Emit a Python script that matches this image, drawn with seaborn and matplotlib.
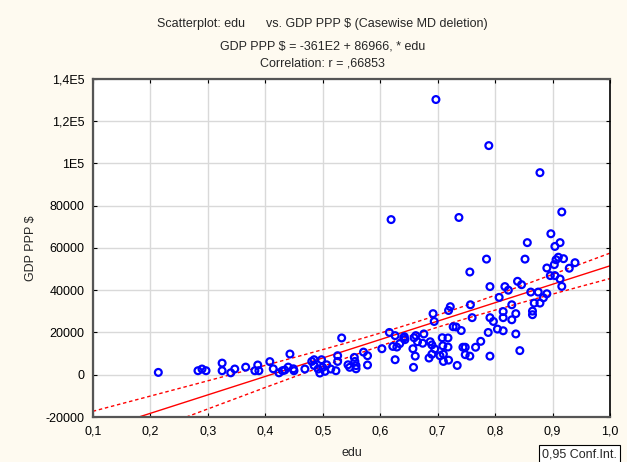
import matplotlib

matplotlib.use("Agg")
import matplotlib.pyplot as plt
import numpy as np
import pandas as pd
import seaborn as sns

edu = [
    0.214, 0.283, 0.290, 0.297, 0.325, 0.325, 0.340, 0.347, 0.366, 0.387,
    0.389, 0.382, 0.408, 0.414, 0.424, 0.430, 0.434, 0.440, 0.443, 0.449,
    0.450, 0.469, 0.481, 0.485, 0.485, 0.492, 0.495, 0.498, 0.500, 0.504,
    0.507, 0.514, 0.523, 0.526, 0.526, 0.533, 0.544, 0.547, 0.555, 0.556,
    0.558, 0.558, 0.571, 0.578, 0.578, 0.603, 0.616, 0.622, 0.626, 0.626,
    0.629, 0.634, 0.641, 0.642, 0.643, 0.657, 0.658, 0.659, 0.662, 0.665,
    0.661, 0.674, 0.676, 0.685, 0.687, 0.690, 0.690, 0.692, 0.694, 0.695,
    0.704, 0.708, 0.709, 0.710, 0.710, 0.718, 0.718, 0.719, 0.719, 0.722,
    0.727, 0.732, 0.734, 0.741, 0.744, 0.748, 0.748, 0.756, 0.756, 0.757,
    0.760, 0.766, 0.775, 0.785, 0.788, 0.791, 0.791, 0.791, 0.797, 0.804,
    0.807, 0.814, 0.814, 0.814, 0.817, 0.823, 0.829, 0.829, 0.836, 0.836,
    0.839, 0.843, 0.846, 0.852, 0.856, 0.862, 0.865, 0.865, 0.868, 0.875,
    0.878, 0.884, 0.890, 0.890, 0.896, 0.904, 0.903, 0.904, 0.906, 0.910,
    0.913, 0.913, 0.916, 0.919, 0.929, 0.939, 0.897, 0.697, 0.789, 0.878,
    0.619, 0.737, 0.916,
]
gdp = [
    1100, 1900, 2700, 1900, 5500, 1900, 900, 2700, 3600, 4600,
    1900, 1900, 6200, 2800, 900, 1900, 2200, 3600, 9800, 2800,
    1900, 2700, 6300, 7100, 4400, 2700, 800, 7100, 3500, 1600,
    4700, 2700, 1900, 6300, 9000, 17400, 4700, 3500, 8200, 6300,
    4300, 2800, 10700, 9000, 4600, 12300, 20000, 13400, 18500, 7100,
    13100, 14700, 17400, 18000, 16600, 12300, 3500, 17500, 18500, 15600,
    8800, 14900, 19300, 7900, 15600, 14100, 9700, 28900, 25200, 12200,
    9000, 17500, 13700, 9700, 6300, 17400, 13100, 6900, 30400, 32200,
    22700, 22600, 4400, 20900, 13000, 13000, 9500, 8800, 48600, 33100,
    27000, 13000, 15800, 54700, 20000, 41700, 27000, 8800, 25200, 21600,
    36600, 27000, 29900, 20800, 41700, 40000, 33100, 26000, 19300, 28900,
    44200, 11400, 42600, 54700, 62500, 39100, 30100, 28400, 33900, 39100,
    33900, 36400, 38300, 50500, 46900, 46900, 52100, 60700, 54400, 55600,
    45300, 62500, 41800, 54900, 50400, 53000, 66700, 130200, 108400, 95600,
    73400, 74400, 77000,
]

x_ticks = [0.1, 0.2, 0.3, 0.4, 0.5, 0.6, 0.7, 0.8, 0.9, 1.0]
x_labels = ["0,1", "0,2", "0,3", "0,4", "0,5", "0,6", "0,7", "0,8", "0,9", "1,0"]
y_ticks = [-20000, 0, 20000, 40000, 60000, 80000, 100000, 120000, 140000]
y_labels = ["-20000", "0", "20000", "40000", "60000", "80000", "1E5", "1,2E5", "1,4E5"]

df = pd.DataFrame({"edu": edu, "GDP PPP $": gdp})

# linear fit + 95% confidence band of the mean
x = df["edu"].to_numpy()
y = df["GDP PPP $"].to_numpy()
n = len(x)
slope, intercept = np.polyfit(x, y, 1)
resid = y - (intercept + slope * x)
s = np.sqrt(np.sum(resid**2) / (n - 2))
sxx = np.sum((x - x.mean()) ** 2)
t_crit = 1.977
xs = np.linspace(0.1, 1.0, 200)
fit = intercept + slope * xs
half = t_crit * s * np.sqrt(1.0 / n + (xs - x.mean()) ** 2 / sxx)

sns.set_style("ticks")
plt.rcParams["font.family"] = ["Liberation Sans", "DejaVu Sans"]
plt.rcParams["font.size"] = 9

bg = "#FEFAF0"
fig = plt.figure(figsize=(6.27, 4.62), dpi=100, facecolor=bg)
ax = fig.add_axes([0.148, 0.0974, 0.825, 0.732])
ax.set_facecolor("white")

ax.grid(True, color="#D9D9D9", linewidth=1)
ax.set_axisbelow(True)

ax.plot(xs, fit, color="#FF0000", linewidth=1, zorder=2)
ax.plot(xs, fit + half, color="#FF0000", linewidth=1, dashes=(2.5, 2), zorder=2)
ax.plot(xs, fit - half, color="#FF0000", linewidth=1, dashes=(2.5, 2), zorder=2)

sns.scatterplot(
    data=df, x="edu", y="GDP PPP $", ax=ax,
    marker="o", s=24, facecolor="none", edgecolor="#0000FF", linewidth=1.6,
    zorder=3,
)

ax.set_xlim(0.1, 1.0)
ax.set_ylim(-20000, 140000)
ax.set_xticks(x_ticks)
ax.set_xticklabels(x_labels)
ax.set_yticks(y_ticks)
ax.set_yticklabels(y_labels)
ax.tick_params(direction="in", length=3, top=True, right=True, colors="black",
               labelsize=9, pad=6)

for side in ["left", "bottom", "top"]:
    ax.spines[side].set_color("#555555")
    ax.spines[side].set_linewidth(1.6)
ax.spines["right"].set_color("black")
ax.spines["right"].set_linewidth(1.2)

ax.set_xlabel("edu", fontsize=9, labelpad=7)
ax.set_ylabel("GDP PPP $", fontsize=9, labelpad=6)

fig.text(0.514, 0.948, "Scatterplot: edu      vs. GDP PPP $ (Casewise MD deletion)",
         ha="center", va="center", fontsize=9)
fig.text(0.514, 0.900, "GDP PPP $ = -361E2 + 86966, * edu",
         ha="center", va="center", fontsize=9)
fig.text(0.514, 0.862, "Correlation: r = ,66853",
         ha="center", va="center", fontsize=9)

fig.text(0.864, 0.004, "0,95 Conf.Int.", ha="left", va="bottom", fontsize=9,
         bbox=dict(boxstyle="square,pad=0.25", facecolor="white",
                   edgecolor="black", linewidth=0.8))

fig.savefig("out.png", dpi=100, facecolor=bg)
